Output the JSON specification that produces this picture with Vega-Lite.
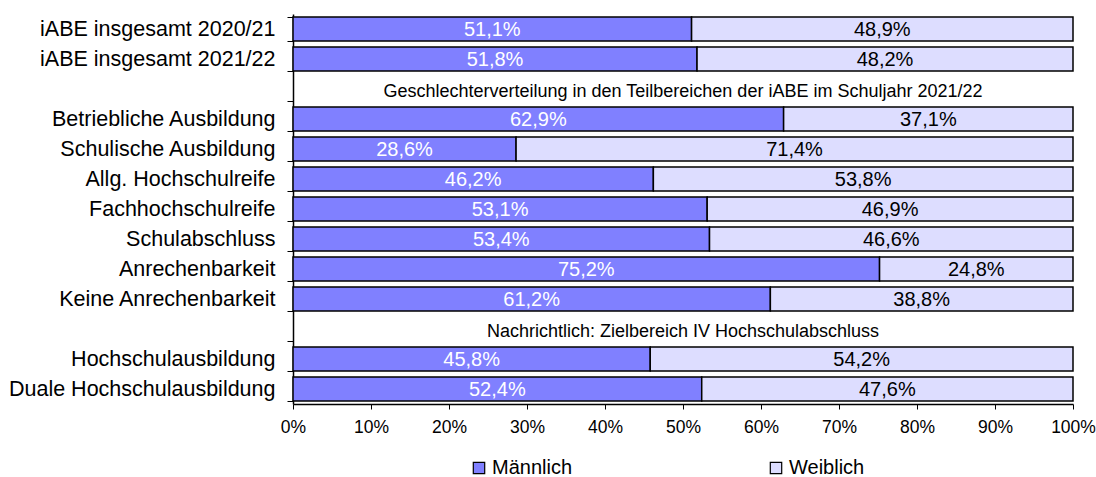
{
  "$schema": "https://vega.github.io/schema/vega-lite/v6.json",
  "width": 780,
  "height": 390,
  "autosize": {"type": "none"},
  "padding": {"left": 293, "top": 14, "right": 23, "bottom": 73},
  "background": "white",
  "config": {
    "font": "Liberation Sans",
    "view": {"stroke": null},
    "locale": {"number": {"decimal": ",", "thousands": ".", "grouping": [3], "currency": ["", " €"]}}
  },
  "datasets": {
    "shares": [
      {"cat": "iABE insgesamt 2020/21", "sex": "Männlich", "value": 0.511},
      {"cat": "iABE insgesamt 2020/21", "sex": "Weiblich", "value": 0.489},
      {"cat": "iABE insgesamt 2021/22", "sex": "Männlich", "value": 0.518},
      {"cat": "iABE insgesamt 2021/22", "sex": "Weiblich", "value": 0.482},
      {"cat": "Betriebliche Ausbildung", "sex": "Männlich", "value": 0.629},
      {"cat": "Betriebliche Ausbildung", "sex": "Weiblich", "value": 0.371},
      {"cat": "Schulische Ausbildung", "sex": "Männlich", "value": 0.286},
      {"cat": "Schulische Ausbildung", "sex": "Weiblich", "value": 0.714},
      {"cat": "Allg. Hochschulreife", "sex": "Männlich", "value": 0.462},
      {"cat": "Allg. Hochschulreife", "sex": "Weiblich", "value": 0.538},
      {"cat": "Fachhochschulreife", "sex": "Männlich", "value": 0.531},
      {"cat": "Fachhochschulreife", "sex": "Weiblich", "value": 0.469},
      {"cat": "Schulabschluss", "sex": "Männlich", "value": 0.534},
      {"cat": "Schulabschluss", "sex": "Weiblich", "value": 0.466},
      {"cat": "Anrechenbarkeit", "sex": "Männlich", "value": 0.752},
      {"cat": "Anrechenbarkeit", "sex": "Weiblich", "value": 0.248},
      {"cat": "Keine Anrechenbarkeit", "sex": "Männlich", "value": 0.612},
      {"cat": "Keine Anrechenbarkeit", "sex": "Weiblich", "value": 0.388},
      {"cat": "Hochschulausbildung", "sex": "Männlich", "value": 0.458},
      {"cat": "Hochschulausbildung", "sex": "Weiblich", "value": 0.542},
      {"cat": "Duale Hochschulausbildung", "sex": "Männlich", "value": 0.524},
      {"cat": "Duale Hochschulausbildung", "sex": "Weiblich", "value": 0.476}
    ],
    "headers": [
      {"cat": "hdr1", "txt": "Geschlechterverteilung in den Teilbereichen der iABE im Schuljahr 2021/22"},
      {"cat": "hdr2", "txt": "Nachrichtlich: Zielbereich IV Hochschulabschluss"}
    ]
  },
  "resolve": {"scale": {"x": "independent"}, "axis": {"x": "independent"}},
  "layer": [
    {
      "data": {"name": "shares"},
      "mark": {"type": "bar", "stroke": "black", "strokeWidth": 1.5},
      "encoding": {
        "y": {
          "field": "cat", "type": "nominal",
          "scale": {"domain": ["iABE insgesamt 2020/21", "iABE insgesamt 2021/22", "hdr1", "Betriebliche Ausbildung", "Schulische Ausbildung", "Allg. Hochschulreife", "Fachhochschulreife", "Schulabschluss", "Anrechenbarkeit", "Keine Anrechenbarkeit", "hdr2", "Hochschulausbildung", "Duale Hochschulausbildung"], "paddingInner": 0.2, "paddingOuter": 0.1},
          "axis": {
            "title": null, "tickBand": "extent", "domainColor": "black", "domainWidth": 1.5,
            "tickColor": "black", "tickSize": 6, "tickWidth": 1, "labelPadding": 12,
            "labelFontSize": 21.5, "labelColor": "black", "labelFont": "Liberation Sans",
            "labelLimit": 300,
            "labelExpr": "indexof(datum.label, 'hdr') == 0 ? '' : datum.label"
          }
        },
        "x": {
          "field": "value", "type": "quantitative", "stack": "zero",
          "scale": {"domain": [0, 1], "nice": false},
          "axis": {
            "title": null, "format": ".0%", "values": [0, 0.1, 0.2, 0.3, 0.4, 0.5, 0.6, 0.7, 0.8, 0.9, 1],
            "labelOverlap": false,
            "grid": false, "domainColor": "black", "domainWidth": 1.5, "tickColor": "black",
            "tickSize": 5, "labelPadding": 9, "labelFontSize": 17.5, "labelColor": "black",
            "labelFont": "Liberation Sans", "labelFlush": false
          }
        },
        "color": {
          "field": "sex", "type": "nominal",
          "scale": {"domain": ["Männlich", "Weiblich"], "range": ["#8080FF", "#DDDDFF"]},
          "legend": {
            "title": null, "orient": "none", "direction": "horizontal",
            "legendX": 176, "legendY": 444, "padding": 0,
            "symbolType": "square", "symbolSize": 130, "symbolStrokeColor": "black", "symbolStrokeWidth": 1.2,
            "labelFontSize": 20, "labelColor": "black", "labelFont": "Liberation Sans", "labelOffset": 3,
            "columnPadding": 193
          }
        },
        "order": {"field": "sex", "sort": "ascending"}
      }
    },
    {
      "data": {"name": "shares"},
      "transform": [{"filter": "datum.sex == 'Männlich'"}],
      "mark": {"type": "text", "color": "white", "fontSize": 20, "baseline": "middle", "dy": 1, "font": "Liberation Sans"},
      "encoding": {
        "y": {"field": "cat", "type": "nominal"},
        "x": {"field": "value", "type": "quantitative", "scale": {"domain": [0, 2], "nice": false}, "axis": null},
        "text": {"field": "value", "type": "quantitative", "format": ".1%"}
      }
    },
    {
      "data": {"name": "shares"},
      "transform": [{"filter": "datum.sex == 'Weiblich'"}],
      "mark": {"type": "text", "color": "black", "fontSize": 20, "baseline": "middle", "dy": 1, "font": "Liberation Sans"},
      "encoding": {
        "y": {"field": "cat", "type": "nominal"},
        "x": {"field": "value", "type": "quantitative", "scale": {"domain": [0, 2], "nice": false, "reverse": true}, "axis": null},
        "text": {"field": "value", "type": "quantitative", "format": ".1%"}
      }
    },
    {
      "data": {"name": "headers"},
      "mark": {"type": "text", "color": "black", "fontSize": 18, "baseline": "middle", "dy": 3, "font": "Liberation Sans"},
      "encoding": {
        "y": {"field": "cat", "type": "nominal"},
        "x": {"datum": 0.5, "type": "quantitative", "scale": {"domain": [0, 1], "nice": false}, "axis": null},
        "text": {"field": "txt", "type": "nominal"}
      }
    }
  ]
}
